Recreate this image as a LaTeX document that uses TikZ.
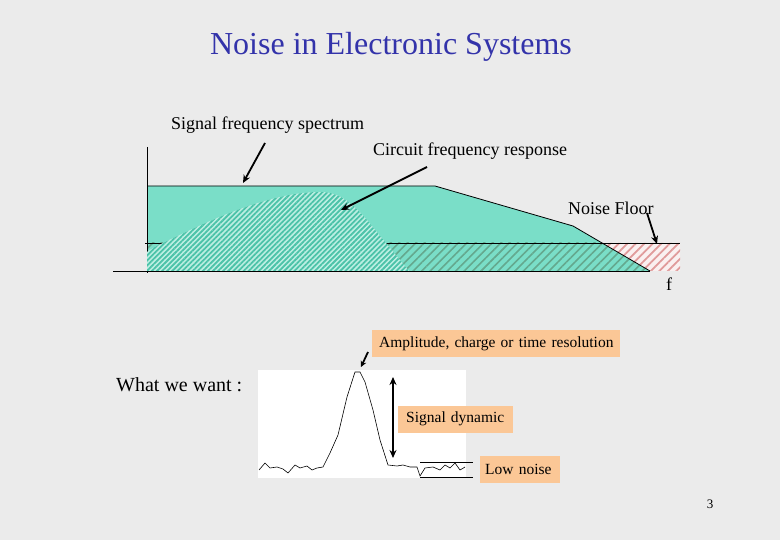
\documentclass[tikz,border=0pt]{standalone}
\usepackage{fontspec}
\setmainfont{Liberation Serif}
\usetikzlibrary{patterns,patterns.meta,arrows.meta}
\definecolor{bg}{HTML}{EBEBEB}
\definecolor{teal}{HTML}{7ADEC8}
\definecolor{tealL}{HTML}{BDEFE3}
\definecolor{tealD}{HTML}{4BC2A8}
\definecolor{nfgreen}{HTML}{64A88E}
\definecolor{nfred}{HTML}{E09A9A}
\definecolor{redbg}{HTML}{FAF0F0}
\definecolor{titleblue}{HTML}{3333AA}
\definecolor{lbl}{HTML}{FBC796}
\tikzset{
  lab/.style={font=\fontsize{18}{20}\selectfont, inner sep=0pt, anchor=west},
  obox/.style={fill=lbl, font=\fontsize{15.5}{17}\selectfont, inner xsep=0pt, inner ysep=0pt, anchor=west, minimum height=27pt, align=left},
  pointer/.style={line width=1.8pt, -{Stealth[length=8pt,width=7pt]}},
  axis/.style={line width=0.8pt},
}
\begin{document}
\begin{tikzpicture}[x=1pt,y=-1pt]
\useasboundingbox (0,0) rectangle (780,540);
\fill[bg] (0,0) rectangle (780,540);
% title
\node[font=\fontsize{32}{34}\selectfont, text=titleblue] (title) at (391,47) {Noise in Electronic Systems};
% labels
\node[lab] (sfs) at (171,125) {Signal frequency spectrum};
\node[lab] (cfr) at (373,151) {Circuit frequency response};
\node[lab] (nf) at (568,208) {Noise Floor};
\node[lab] (f) at (666,284) {f};
% spectrum
\fill[teal] (147,186) -- (435,186) -- (573,226) -- (650,271) -- (147,271) -- cycle;
\begin{scope}
\clip (147,186) -- (435,186) -- (573,226) -- (650,271) -- (147,271) -- cycle;
\fill[pattern={Lines[angle=45,distance=6pt,line width=1.6pt]}, pattern color=nfgreen] (147,243) rectangle (680,271);
\end{scope}
\fill[redbg] (602,243) -- (680,243) -- (680,271) -- (650,271) -- cycle;
\fill[pattern={Lines[angle=45,distance=6pt,line width=1.8pt]}, pattern color=nfred] (602,243) -- (680,243) -- (680,271) -- (650,271) -- cycle;
% lines
\draw[axis] (145,243) -- (680,243);
\draw[axis] (113,271) -- (650,271);
\draw[axis] (147,147) -- (147,273);
\draw[axis] (147,186) -- (435,186) -- (573,226) -- (650,271);
% circuit response
\path[fill=tealL] (147,271) -- (147,252) .. controls (152,248) and (157,246) .. (163,243)
  .. controls (210,220) and (270,192) .. (320,192) .. controls (340,192) and (352,203) .. (367,220)
  -- (409,271) -- cycle;
\path[pattern={Lines[angle=45,distance=3.6pt,line width=1.8pt]}, pattern color=tealD] (147,271) -- (147,252) .. controls (152,248) and (157,246) .. (163,243)
  .. controls (210,220) and (270,192) .. (320,192) .. controls (340,192) and (352,203) .. (367,220)
  -- (409,271) -- cycle;
% arrows
\coordinate (a1) at (243,183);
\coordinate (a2) at (341,210);
\coordinate (a3) at (657,244);
\draw[pointer] (265,143) -- (a1);
\draw[pointer] (427,167) -- (a2);
\draw[pointer] (647,213) -- (a3);
% bottom part
\node[font=\fontsize{20}{22}\selectfont, anchor=west, inner sep=0pt] (want) at (116,385) {What we want :};
\fill[white] (258,370) rectangle (466,478);
\draw[line width=0.6pt] (259,470) -- (265,463) -- (270,468) -- (277,467) -- (283,469) -- (288,473) -- (295,465) -- (300,468) -- (307,466) -- (312,470) -- (317,468) -- (323,467) -- (330,453) -- (338,435) -- (347,397) -- (355,372) -- (360,372) -- (365,382) -- (373,410) -- (380,440) -- (388,465) -- (397,466) -- (403,465) -- (410,467) -- (417,467) -- (420,476) -- (425,468) -- (433,467) -- (440,470) -- (445,465) -- (450,468) -- (455,463) -- (460,470) -- (465,467);
\draw[line width=0.8pt] (420,462) -- (473,462);
\draw[line width=0.8pt] (420,477) -- (473,477);
\coordinate (dtop) at (393,377);
\coordinate (dbot) at (393,458);
\draw[line width=1.8pt, {Stealth[length=8pt,width=7pt]}-{Stealth[length=8pt,width=7pt]}] (dtop) -- (dbot);
\node[obox, text width=248pt] (amp) at (372,344) {\hspace*{7pt}Amplitude, charge or time resolution};
\node[obox, text width=115pt] (sd) at (398,419) {\hspace*{8pt}Signal dynamic};
\node[obox, text width=80pt] (ln) at (480,469) {\hspace*{5pt}Low noise};
\draw[line width=1.8pt, -{Stealth[length=6pt,width=6pt]}] (368,352) -- (361,367);
\node[font=\fontsize{13}{14}\selectfont] (pg) at (710,504) {3};
\end{tikzpicture}
\end{document}
